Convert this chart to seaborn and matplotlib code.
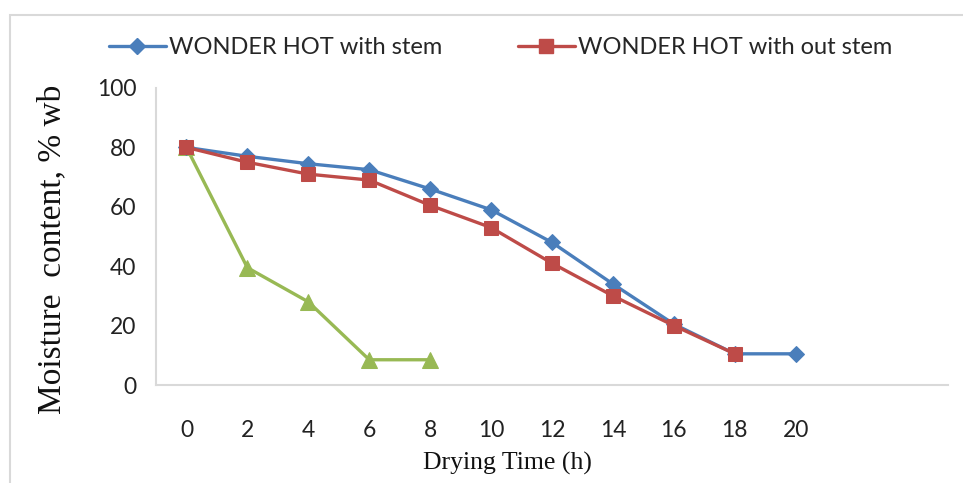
import matplotlib
matplotlib.use("Agg")
import matplotlib.pyplot as plt
import seaborn as sns
import pandas as pd
from matplotlib.patches import Rectangle
from matplotlib.lines import Line2D

time_with_stem = [0, 2, 4, 6, 8, 10, 12, 14, 16, 18, 20]
moisture_with_stem = [80, 77, 74.5, 72.5, 66, 59, 48, 34, 20.5, 10.5, 10.5]
time_without_stem = [0, 2, 4, 6, 8, 10, 12, 14, 16, 18]
moisture_without_stem = [80, 75, 71, 69, 60.5, 53, 41, 30, 20, 10.5]
time_third = [0, 2, 4, 6, 8]
moisture_third = [80, 39.5, 28, 8.5, 8.5]
x_ticks = [0, 2, 4, 6, 8, 10, 12, 14, 16, 18, 20]
y_ticks = [0, 20, 40, 60, 80, 100]
label_with = "WONDER HOT with stem"
label_without = "WONDER HOT with out stem"

sns.set_theme(style="white")
plt.rcParams['font.family'] = ['Lato', 'DejaVu Sans']

BLUE = "#4a7ebb"
RED = "#be4b48"
GREEN = "#98b954"

fig = plt.figure(figsize=(9.63, 4.83), dpi=100)
ax = fig.add_axes([156/963, (483-385)/483, (948-156)/963, (385-88)/483])

df_g = pd.DataFrame({"t": time_third, "m": moisture_third})
df_b = pd.DataFrame({"t": time_with_stem, "m": moisture_with_stem})
df_r = pd.DataFrame({"t": time_without_stem, "m": moisture_without_stem})

sns.lineplot(data=df_g, x="t", y="m", ax=ax, color=GREEN, lw=2.4,
             marker="^", markersize=11, markeredgecolor=GREEN, zorder=3)
sns.lineplot(data=df_b, x="t", y="m", ax=ax, color=BLUE, lw=2.4,
             marker="D", markersize=8.5, markeredgecolor=BLUE, zorder=4)
sns.lineplot(data=df_r, x="t", y="m", ax=ax, color=RED, lw=2.4,
             marker="s", markersize=10.5, markeredgecolor=RED, zorder=5)

ax.set_xlim(-1, 25)
ax.set_ylim(0, 100)
ax.set_xticks(x_ticks)
ax.set_yticks(y_ticks)
ax.tick_params(axis="x", length=0, pad=25, labelsize=16.5, colors="#222222")
ax.tick_params(axis="y", length=0, pad=14, labelsize=16.5, colors="#222222")
for s in ["top", "right"]:
    ax.spines[s].set_visible(False)
for s in ["left", "bottom"]:
    ax.spines[s].set_color("#d9d9d9")
    ax.spines[s].set_linewidth(1.5)
ax.grid(False)

ax.set_xlabel("")
ax.set_ylabel("")
fig.text(507/963, 1 - 463/483, "Drying Time (h)", family=["Liberation Serif"],
         fontsize=18.5, color="#111111", ha="center", va="center")
fig.text(52/963, 1 - 249/483, "Moisture  content, % wb", family=["Liberation Serif"],
         fontsize=24, color="#111111", ha="center", va="center", rotation=90)

handles = [Line2D([], [], color=BLUE, lw=2.4, marker="D", markersize=8.5),
           Line2D([], [], color=RED, lw=2.4, marker="s", markersize=10.5)]
fig.legend(handles, [label_with, label_without], loc="center",
           bbox_to_anchor=(0.52, 1 - 48/483), ncol=2, frameon=False,
           fontsize=17, handlelength=2.4, columnspacing=3.2, handletextpad=0.15)

fig.add_artist(Rectangle((10/963, -0.2), 1.2, 1.2 - 15/483,
                         transform=fig.transFigure, fill=False,
                         edgecolor="#d9d9d9", lw=1.5))

fig.savefig("out.png", dpi=100)
